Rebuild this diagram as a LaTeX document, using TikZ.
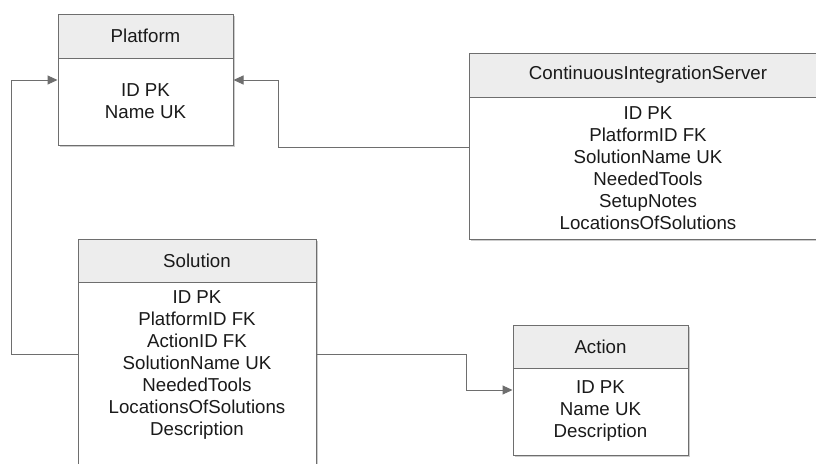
\documentclass[tikz,border=0pt]{standalone}
\usepackage{fontspec}
\setmainfont{Liberation Sans}
\usetikzlibrary{arrows.meta,shadows}
\definecolor{edge}{HTML}{6E6E6E}
\definecolor{hdrfill}{HTML}{EDEDED}
\definecolor{ink}{HTML}{1A1A1A}
\tikzset{
  tblfont/.style={font=\fontsize{18.7}{22}\selectfont, text=ink},
  box/.style={draw=edge, line width=1pt, inner sep=0pt, align=center, tblfont,
    drop shadow={shadow xshift=2pt, shadow yshift=-2pt, fill=black, opacity=0.2}},
  hdr/.style={box, fill=hdrfill},
  bodybox/.style={box, fill=white},
  fieldtext/.style={tblfont, align=center, inner sep=0pt},
  conn/.style={draw=edge, line width=1pt, -{Triangle[length=10pt,width=9pt]}}
}
\begin{document}
\begin{tikzpicture}[x=1pt, y=-1pt]
  \useasboundingbox[fill=white] (0,0) rectangle (816,463);

  % Platform table
  \node[hdr, minimum width=175pt, minimum height=44pt] (platH) at (145.5,36) {Platform};
  \node[bodybox, minimum width=175pt, minimum height=87pt] (platB) at (145.5,101.5) {ID PK\\Name UK};

  % ContinuousIntegrationServer table
  \node[hdr, minimum width=358pt, minimum height=44pt] (ciH) at (648,75) {ContinuousIntegrationServer};
  \node[bodybox, minimum width=358pt, minimum height=142pt] (ciB) at (648,168)
    {ID PK\\PlatformID FK\\SolutionName UK\\NeededTools\\SetupNotes\\LocationsOfSolutions};

  % Solution table
  \node[hdr, minimum width=238pt, minimum height=43pt] (solH) at (197,260.5) {Solution};
  \node[bodybox, minimum width=238pt, minimum height=208pt] (solB) at (197,386) {};
  \node[fieldtext] (solT) at (197,365)
    {ID PK\\PlatformID FK\\ActionID FK\\SolutionName UK\\NeededTools\\LocationsOfSolutions\\Description};

  % Action table
  \node[hdr, minimum width=175pt, minimum height=43pt] (actH) at (600.5,346.5) {Action};
  \node[bodybox, minimum width=175pt, minimum height=87pt] (actB) at (600.5,411.5) {ID PK\\Name UK\\Description};

  % Relations
  \draw[conn] ([yshift=32pt]solB.west) -- ++(-66,0) |- ([yshift=21.5pt]platB.west);
  \draw[conn] ([yshift=21pt]ciB.west) -- ++(-190,0) |- ([yshift=21.5pt]platB.east);
  \draw[conn] ([yshift=32pt]solB.east) -- ++(150,0) |- ([yshift=21.5pt]actB.west);
\end{tikzpicture}
\end{document}
